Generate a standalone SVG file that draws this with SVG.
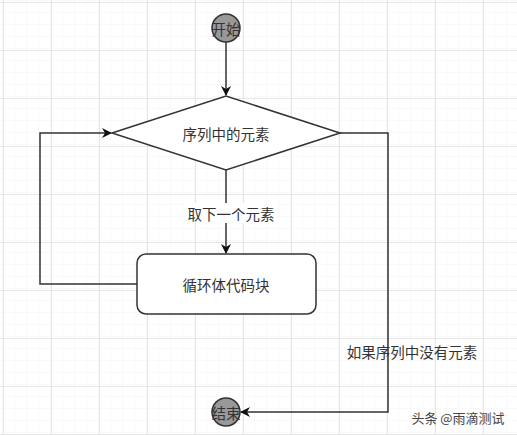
<svg xmlns="http://www.w3.org/2000/svg" width="517" height="435" viewBox="0 0 517 435">
<defs>
<pattern id="minor" x="3" y="1" width="12" height="12" patternUnits="userSpaceOnUse">
<path d="M12 0V12M0 12H12" fill="none" stroke="#f3f3f3" stroke-width="1"/>
</pattern>
<pattern id="major" x="3" y="2" width="48" height="48" patternUnits="userSpaceOnUse">
<path d="M0.5 0V48M0 0.5H48" fill="none" stroke="#e6e6e6" stroke-width="1"/>
</pattern>
<marker id="arr" viewBox="0 0 10 10" refX="9" refY="5" markerWidth="10" markerHeight="10" markerUnits="userSpaceOnUse" orient="auto">
<path d="M0 0L10 5L0 10L3 5Z" fill="#111"/>
</marker>
<style>
.t{font-family:"Noto Sans CJK SC","Liberation Sans",sans-serif;font-size:14.5px;fill:#333;text-anchor:middle;dominant-baseline:central}
.e{fill:none;stroke:#333;stroke-width:1.5}
.c{fill:#999;stroke:#333;stroke-width:1.5}
.s{fill:#fff;stroke:#333;stroke-width:1.5}
</style>
</defs>
<rect width="517" height="435" fill="#fff"/>
<rect width="517" height="435" fill="url(#minor)"/>
<rect width="517" height="435" fill="url(#major)"/>
<g id="connectors">
<path class="e" d="M226 42V95" marker-end="url(#arr)"/>
<path class="e" d="M226 170V253" marker-end="url(#arr)"/>
<path class="e" d="M137 284H40V133H111" marker-end="url(#arr)"/>
<path class="e" d="M340 133H388V412H241" marker-end="url(#arr)"/>
<rect x="186" y="203" width="91" height="20" fill="#fff"/>
<text class="t" x="231" y="213">取下一个元素</text>
<text class="t" x="412" y="351">如果序列中没有元素</text>
</g>
<g id="start">
<circle class="c" cx="226" cy="28" r="14"/>
<text class="t" x="226" y="28">开始</text>
</g>
<g id="decision">
<path class="s" d="M112 133L226 96L340 133L226 170Z"/>
<text class="t" x="226" y="133">序列中的元素</text>
</g>
<g id="body">
<rect class="s" x="137" y="254" width="179" height="60" rx="9"/>
<text class="t" x="226" y="284">循环体代码块</text>
</g>
<g id="end">
<circle class="c" cx="226" cy="412" r="14"/>
<text class="t" x="226" y="412">结束</text>
</g>
<text x="458" y="417" style="font-family:'Noto Sans CJK SC',sans-serif;font-size:13px;fill:#444;text-anchor:middle;dominant-baseline:central">头条 @雨滴测试</text>
</svg>
